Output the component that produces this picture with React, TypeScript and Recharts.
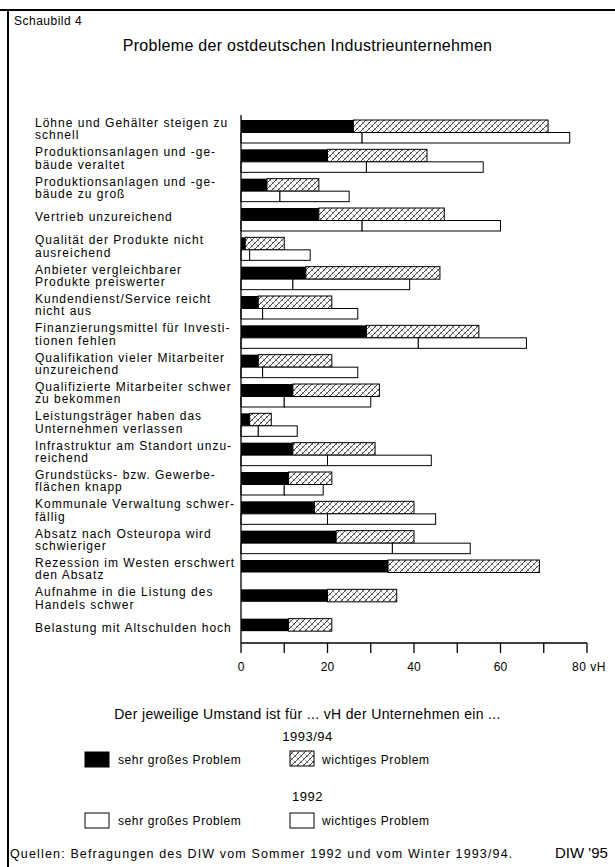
import React from 'react';
import { BarChart, Bar, XAxis, YAxis } from 'recharts';

// Befragungsergebnisse, vH der Unternehmen
const categories = [
  'Löhne und Gehälter steigen zu\nschnell',
  'Produktionsanlagen und -ge-\nbäude veraltet',
  'Produktionsanlagen und -ge-\nbäude zu groß',
  'Vertrieb unzureichend',
  'Qualität der Produkte nicht\nausreichend',
  'Anbieter vergleichbarer\nProdukte preiswerter',
  'Kundendienst/Service reicht\nnicht aus',
  'Finanzierungsmittel für Investi-\ntionen fehlen',
  'Qualifikation vieler Mitarbeiter\nunzureichend',
  'Qualifizierte Mitarbeiter schwer\nzu bekommen',
  'Leistungsträger haben das\nUnternehmen verlassen',
  'Infrastruktur am Standort unzu-\nreichend',
  'Grundstücks- bzw. Gewerbe-\nflächen knapp',
  'Kommunale Verwaltung schwer-\nfällig',
  'Absatz nach Osteuropa wird\nschwieriger',
  'Rezession im Westen erschwert\nden Absatz',
  'Aufnahme in die Listung des\nHandels schwer',
  'Belastung mit Altschulden hoch',
];

// 1993/94
const severe9394 = [26, 20, 6, 18, 1, 15, 4, 29, 4, 12, 2, 12, 11, 17, 22, 34, 20, 11];
const important9394 = [45, 23, 12, 29, 9, 31, 17, 26, 17, 20, 5, 19, 10, 23, 18, 35, 16, 10];
// 1992 (letzte drei Umstände nicht erfragt)
const severe1992 = [28, 29, 9, 28, 2, 12, 5, 41, 5, 10, 4, 20, 10, 20, 35, null, null, null];
const important1992 = [48, 27, 16, 32, 14, 27, 22, 25, 22, 20, 9, 24, 9, 25, 18, null, null, null];

const xTicks = [0, 10, 20, 30, 40, 50, 60, 70, 80];

const data = categories.map((name, i) => ({
  name,
  s94: severe9394[i],
  w94: important9394[i],
  s92: severe1992[i],
  w92: important1992[i],
}));

const FONT = '"Liberation Sans", Arial, Helvetica, sans-serif';

// bars sit a little low in their row
const barShape = (fill: string, stroke?: string) => (p: any) => {
  if (!p.width || p.width <= 0 || !p.height) return <g />;
  return (
    <rect
      x={p.x}
      y={p.y + 2}
      width={p.width}
      height={p.height}
      fill={fill}
      stroke={stroke || 'none'}
      strokeWidth={1}
    />
  );
};

const CategoryTick = (props: any) => {
  const { y, payload } = props;
  const lines = String(payload.value).split('\n');
  const lh = 12.5;
  const y0 = y - ((lines.length - 1) * lh) / 2 - 0.5;
  return (
    <text x={35} y={y0} fontSize={12} fontFamily={FONT} fill="#000" letterSpacing={1} dominantBaseline="central">
      {lines.map((l, i) => (
        <tspan key={i} x={35} y={y0 + i * lh}>{l}</tspan>
      ))}
    </text>
  );
};

const ValueTick = (props: any) => {
  const { x, y, payload } = props;
  const v = payload.value;
  if (v % 20 !== 0) return <g />;
  if (v === 80) {
    return (
      <text x={x - 15} y={y + 12} fontSize={12} fontFamily={FONT} fill="#000" letterSpacing={0.5} dominantBaseline="central">
        80 vH
      </text>
    );
  }
  return (
    <text x={x} y={y + 12} fontSize={12} fontFamily={FONT} fill="#000" textAnchor="middle" dominantBaseline="central">
      {v}
    </text>
  );
};

const Hatch = ({ id }: { id: string }) => (
  <pattern id={id} patternUnits="userSpaceOnUse" width={6} height={6}>
    <rect width={6} height={6} fill="#fff" />
    <path d="M0,6 L6,0 M-1,1 L1,-1 M5,7 L7,5" stroke="#111" strokeWidth={0.8} />
    <path d="M0,0 L6,6" stroke="#333" strokeWidth={0.6} strokeDasharray="1.5 1" />
  </pattern>
);

const txt = (top: number, left: number, size: number, content: React.ReactNode, extra: React.CSSProperties = {}) => (
  <div style={{ position: 'absolute', top, left, fontSize: size, lineHeight: `${size + 4}px`, whiteSpace: 'nowrap', ...extra }}>
    {content}
  </div>
);

const LegendBox = ({ left, top, kind }: { left: number; top: number; kind: 'black' | 'hatch' | 'white' }) => (
  <svg style={{ position: 'absolute', left, top }} width={27} height={18}>
    <defs>
      <Hatch id="legendHatch" />
    </defs>
    <rect
      x={1}
      y={1}
      width={24}
      height={15}
      fill={kind === 'black' ? '#000' : kind === 'hatch' ? 'url(#legendHatch)' : '#fff'}
      stroke="#000"
      strokeWidth={1}
    />
  </svg>
);

export default function App() {
  return (
    <div
      style={{
        position: 'absolute',
        left: 0,
        top: 0,
        width: 615,
        height: 867,
        background: '#fff',
        fontFamily: FONT,
        color: '#000',
        overflow: 'hidden',
      }}
    >
      {/* frame */}
      <div style={{ position: 'absolute', left: 0, top: 9, width: 615, height: 1.5, background: '#000' }} />
      <div style={{ position: 'absolute', left: 7, top: 9, width: 1.5, height: 858, background: '#000' }} />

      <div style={{ position: 'absolute', left: 0, top: 0 }}>
        <BarChart
          width={615}
          height={867}
          data={data}
          layout="vertical"
          margin={{ top: 115, right: 28, bottom: 194, left: 0 }}
          barGap={0}
        >
          <defs>
            <Hatch id="barHatch" />
          </defs>
          <XAxis
            type="number"
            domain={[0, 80]}
            ticks={xTicks}
            interval={0}
            height={30}
            tickSize={10}
            axisLine={{ stroke: '#000', strokeWidth: 1.3 }}
            tickLine={{ stroke: '#000', strokeWidth: 1.3 }}
            tick={<ValueTick />}
          />
          <YAxis
            type="category"
            dataKey="name"
            width={241}
            interval={0}
            tickLine={false}
            axisLine={{ stroke: '#000', strokeWidth: 1.3 }}
            tick={<CategoryTick />}
          />
          <Bar dataKey="s94" stackId="y94" barSize={12.5} isAnimationActive={false} shape={barShape('#000')} />
          <Bar dataKey="w94" stackId="y94" barSize={12.5} isAnimationActive={false} shape={barShape('url(#barHatch)', '#000')} />
          <Bar dataKey="s92" stackId="y92" barSize={10.5} isAnimationActive={false} shape={barShape('#fff', '#000')} />
          <Bar dataKey="w92" stackId="y92" barSize={10.5} isAnimationActive={false} shape={barShape('#fff', '#000')} />
        </BarChart>
      </div>

      {txt(13, 14, 12, 'Schaubild 4', { letterSpacing: 0.5 })}
      {txt(36, 0, 16, 'Probleme der ostdeutschen Industrieunternehmen', { width: 615, textAlign: 'center', letterSpacing: 0.3 })}

      {txt(705, 0, 14, 'Der jeweilige Umstand ist für ... vH der Unternehmen ein ...', { width: 615, textAlign: 'center', letterSpacing: 0.35 })}
      {txt(728, 0, 13, '1993/94', { width: 615, textAlign: 'center', letterSpacing: 0.5 })}
      <LegendBox left={84} top={751} kind="black" />
      {txt(752, 118, 12, 'sehr großes Problem', { letterSpacing: 0.6 })}
      <LegendBox left={289} top={750} kind="hatch" />
      {txt(752, 322, 12, 'wichtiges Problem', { letterSpacing: 0.6 })}
      {txt(788, 0, 13, '1992', { width: 615, textAlign: 'center', letterSpacing: 0.5 })}
      <LegendBox left={84} top={812} kind="white" />
      {txt(813, 118, 12, 'sehr großes Problem', { letterSpacing: 0.6 })}
      <LegendBox left={289} top={812} kind="white" />
      {txt(813, 322, 12, 'wichtiges Problem', { letterSpacing: 0.6 })}

      {txt(846, 10, 12.5, 'Quellen: Befragungen des DIW vom Sommer 1992 und vom Winter 1993/94.', { letterSpacing: 1.15 })}
      {txt(843, 555, 15, "DIW '95", { letterSpacing: 0 })}
    </div>
  );
}
